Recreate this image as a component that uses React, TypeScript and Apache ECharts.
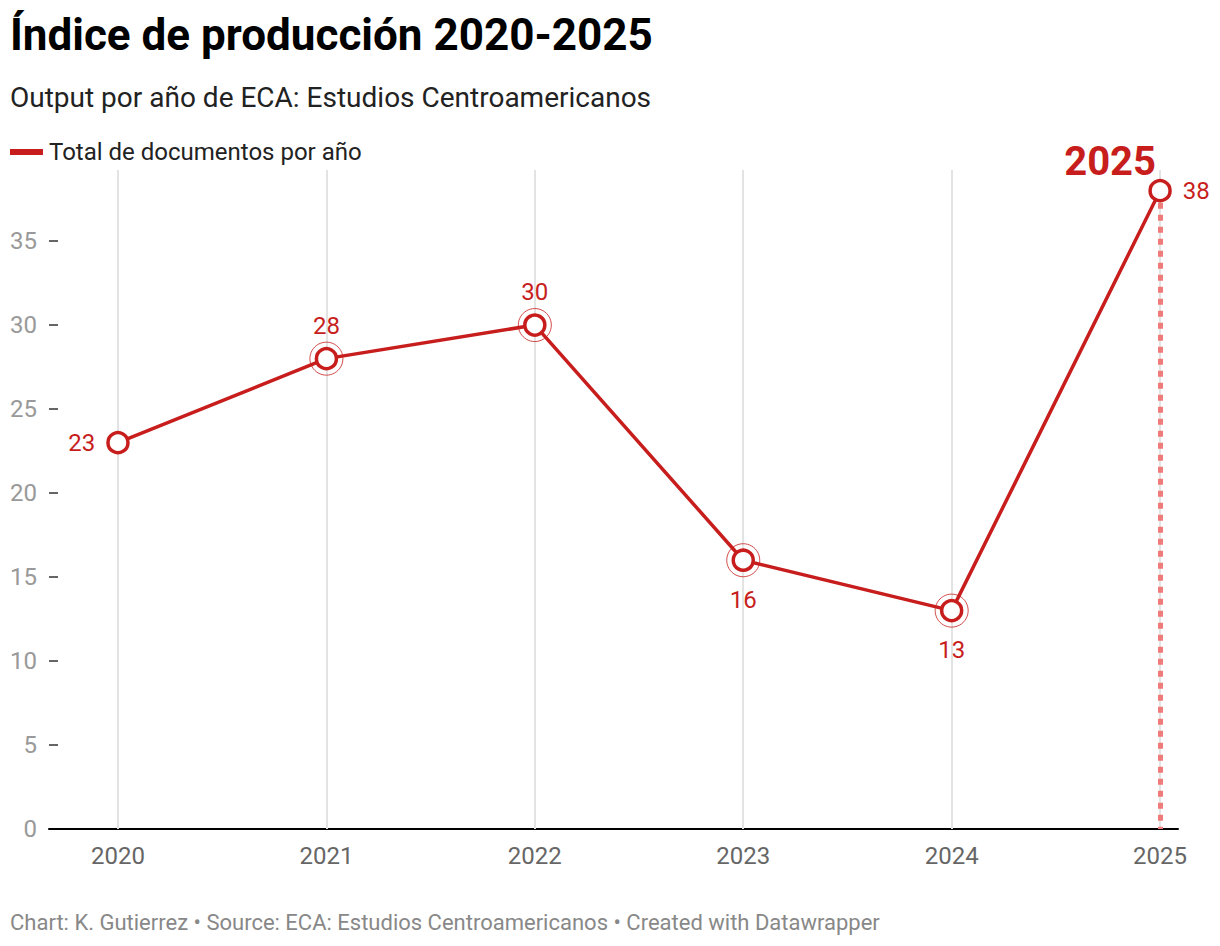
import React, { useEffect, useRef } from "react";
import * as echarts from "echarts";

const years = [2020, 2021, 2022, 2023, 2024, 2025];
const values = [23, 28, 30, 16, 13, 38];
const labelPositions = ["left", "top", "top", "bottom", "bottom", "right"];
const ringYears = [2021, 2022, 2023, 2024];
const yTicks = [0, 5, 10, 15, 20, 25, 30, 35];
const highlightYear = 2025;

const RED = "#c71e1d";
const FONT = "Roboto";
const labelDistance: Record<string, number> = { left: 11, right: 11, top: 9, bottom: 16 };

export default function App() {
  const ref = useRef<HTMLDivElement>(null);
  useEffect(() => {
    document.body.style.margin = "0";
    if (!ref.current) return;
    const chart = echarts.init(ref.current, undefined, { renderer: "svg" });
    const lineData = years.map((y, i) => ({
      value: [y, values[i]],
      label: {
        show: true,
        position: labelPositions[i],
        distance: labelDistance[labelPositions[i]],
        color: RED,
        fontSize: 24,
        fontFamily: FONT,
      },
    }));
    const ringData = years
      .map((y, i) => [y, values[i]])
      .filter((d) => ringYears.includes(d[0]));
    const hiIdx = years.indexOf(highlightYear);
    chart.setOption({
      animation: false,
      textStyle: { fontFamily: FONT },
      title: [
        {
          text: "Índice de producción 2020-2025",
          left: 10,
          top: 13,
          padding: 0,
          textStyle: { fontSize: 44, fontWeight: "bold", color: "#000", fontFamily: FONT },
        },
        {
          text: "Output por año de ECA: Estudios Centroamericanos",
          left: 10,
          top: 83,
          padding: 0,
          textStyle: { fontSize: 28, fontWeight: "normal", color: "#222", fontFamily: FONT },
        },
        {
          text: "Chart: K. Gutierrez • Source: ECA: Estudios Centroamericanos • Created with Datawrapper",
          left: 10,
          top: 911,
          padding: 0,
          textStyle: { fontSize: 22, fontWeight: "normal", color: "#888", fontFamily: FONT },
        },
      ],
      legend: {
        left: 10,
        top: 140,
        padding: 0,
        icon: "rect",
        itemWidth: 31,
        itemHeight: 4,
        itemGap: 20,
        data: [{ name: "Total de documentos por año", itemStyle: { color: RED } }],
        textStyle: { fontSize: 24, color: "#222", fontFamily: FONT, padding: [0, 0, 0, 2] },
        selectedMode: false,
      },
      grid: { left: 49, right: 42, top: 170, bottom: 117, containLabel: false },
      xAxis: {
        type: "value",
        min: 2019.669,
        max: 2025.086,
        axisLine: { show: true, onZero: false, lineStyle: { color: "#000", width: 2 } },
        axisTick: { show: false },
        splitLine: { show: false },
        axisLabel: {
          customValues: years,
          formatter: (v: number) => String(v),
          color: "#666",
          fontSize: 24,
          fontFamily: FONT,
          margin: 15,
        },
      },
      yAxis: {
        type: "value",
        min: 0,
        max: 39.23,
        axisLine: { show: false },
        axisTick: {
          show: true,
          inside: true,
          length: 9,
          customValues: yTicks.slice(1),
          lineStyle: { color: "#333", width: 1.5 },
        },
        splitLine: { show: false },
        axisLabel: {
          customValues: yTicks,
          color: "#999",
          fontSize: 24,
          fontFamily: FONT,
          margin: 12,
        },
      },
      series: [
        {
          name: "Total de documentos por año",
          type: "line",
          data: lineData,
          z: 5,
          symbol: "circle",
          symbolSize: 20,
          lineStyle: { color: RED, width: 3.5 },
          itemStyle: { color: "#fff", borderColor: RED, borderWidth: 3.5 },
          markLine: {
            silent: true,
            symbol: "none",
            label: { show: false },
            z: 1,
            data: [
              ...years.map((y) => ({
                xAxis: y,
                lineStyle: { color: "#e3e3e3", width: 2, type: "solid" },
              })),
              [
                {
                  coord: [highlightYear, values[hiIdx]],
                  lineStyle: { color: "#f07b7b", width: 5, type: [6, 6] },
                },
                { coord: [highlightYear, 0] },
              ],
            ],
          },
          markPoint: {
            symbol: "circle",
            symbolSize: 1,
            silent: true,
            itemStyle: { color: "rgba(0,0,0,0)" },
            data: [
              {
                coord: [highlightYear, values[hiIdx]],
                label: {
                  show: true,
                  position: "inside",
                  formatter: String(highlightYear),
                  color: RED,
                  fontSize: 40,
                  fontWeight: "bold",
                  fontFamily: FONT,
                  offset: [-50, -29],
                },
              },
            ],
          },
        },
        {
          type: "scatter",
          data: ringData,
          z: 4,
          silent: true,
          symbol: "circle",
          symbolSize: 33,
          itemStyle: { color: "rgba(255,255,255,0)", borderColor: RED, borderWidth: 1 },
        },
      ],
    });
    return () => chart.dispose();
  }, []);
  return <div ref={ref} style={{ width: 1220, height: 946 }} />;
}
